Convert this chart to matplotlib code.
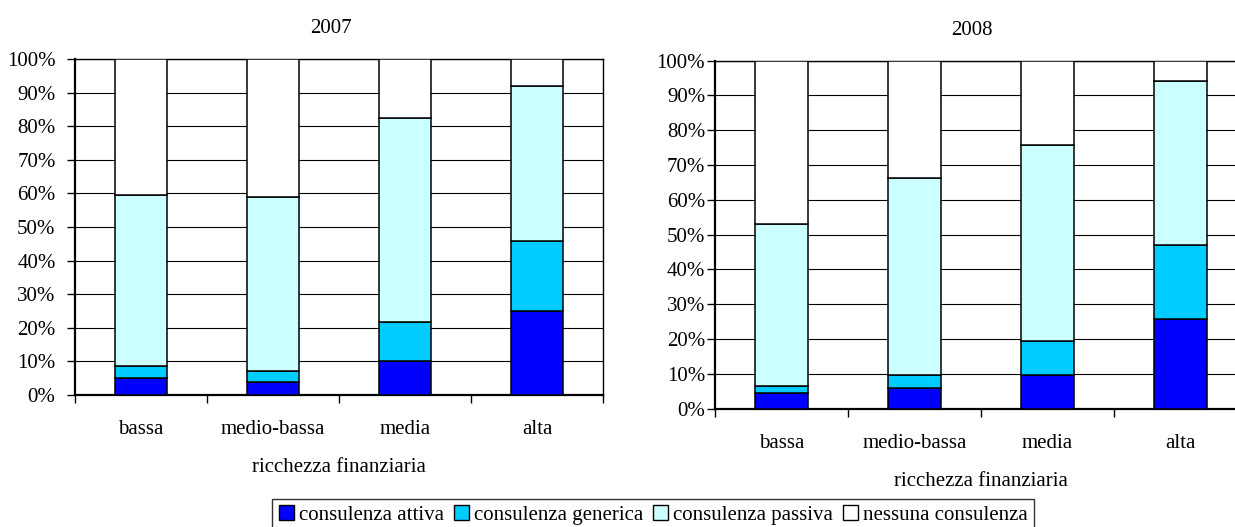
import matplotlib
matplotlib.use("Agg")
import matplotlib.pyplot as plt
from matplotlib.patches import Patch
import numpy as np

plt.rcParams['font.family'] = ['Liberation Serif', 'DejaVu Serif']

categories = ["bassa", "medio-bassa", "media", "alta"]
series_names = ["consulenza attiva", "consulenza generica", "consulenza passiva", "nessuna consulenza"]
colors = ["#0000FF", "#00CCFF", "#CCFFFF", "#FFFFFF"]

# 2007 shares (%)
attiva_2007 = [5.0, 4.0, 10.2, 25.0]
generica_2007 = [3.7, 3.2, 11.6, 20.8]
passiva_2007 = [50.8, 51.8, 60.5, 46.3]
nessuna_2007 = [40.5, 41.0, 17.7, 7.9]

# 2008 shares (%)
attiva_2008 = [4.5, 5.9, 9.7, 25.8]
generica_2008 = [1.9, 3.6, 9.8, 21.2]
passiva_2008 = [46.6, 56.8, 56.4, 47.3]
nessuna_2008 = [47.0, 33.7, 24.1, 5.7]

xlabel = "ricchezza finanziaria"
yticks = list(range(0, 101, 10))
FS = 15

W, H = 1235, 527
fig = plt.figure(figsize=(W / 100, H / 100), dpi=100)

def px_rect(x0, y0, x1, y1):
    return [x0 / W, 1 - y1 / H, (x1 - x0) / W, (y1 - y0) / H]

ax1 = fig.add_axes(px_rect(75, 59, 603, 395))
ax2 = fig.add_axes(px_rect(715, 60.7, 1247, 408.5))

def draw(ax, data, title, title_x, title_pad, ypad):
    x = np.arange(len(categories))
    bottom = np.zeros(len(categories))
    for vals, c in zip(data, colors):
        ax.bar(x, vals, width=0.4, bottom=bottom, color=c, edgecolor="black",
               linewidth=1.1, zorder=3)
        bottom += np.array(vals)
    ax.set_xlim(-0.5, len(categories) - 0.5)
    ax.set_ylim(0, 100)
    ax.set_yticks(yticks)
    ax.set_yticklabels([f"{t}%" for t in yticks], fontsize=FS)
    ax.yaxis.grid(True, color="black", linewidth=0.8, zorder=0)
    ax.set_axisbelow(True)
    ax.set_xticks(x)
    ax.set_xticklabels(categories, fontsize=FS)
    ax.set_xticks(np.arange(-0.5, len(categories) + 0.5, 1), minor=True)
    ax.tick_params(axis="x", which="major", length=0, pad=18)
    ax.tick_params(axis="x", which="minor", length=6, width=1.0, direction="out")
    ax.tick_params(axis="y", length=6, width=1.0, direction="out", pad=ypad)
    for s in ax.spines.values():
        s.set_color("black")
        s.set_linewidth(1.0)
    ax.spines["left"].set_linewidth(1.6)
    ax.spines["bottom"].set_linewidth(1.6)
    ax.set_xlabel(xlabel, fontsize=FS, labelpad=14)
    ax.set_title(title, fontsize=FS, x=title_x, pad=title_pad)

draw(ax1, [attiva_2007, generica_2007, passiva_2007, nessuna_2007], "2007", 0.485, 18.5, 8)
draw(ax2, [attiva_2008, generica_2008, passiva_2008, nessuna_2008], "2008", 0.483, 18.3, 1)

handles = [Patch(facecolor=c, edgecolor="black", linewidth=1.0) for c in colors]
leg = fig.legend(handles, series_names, loc="upper center", ncol=4,
                 bbox_to_anchor=(653 / W, 1 - 499 / H), fontsize=FS,
                 frameon=True, fancybox=False, edgecolor="black",
                 handlelength=0.72, handleheight=0.72, handletextpad=0.24,
                 columnspacing=0.48, borderpad=0.3, borderaxespad=0)
leg.get_frame().set_linewidth(1.0)

fig.savefig("out.png", dpi=100)
